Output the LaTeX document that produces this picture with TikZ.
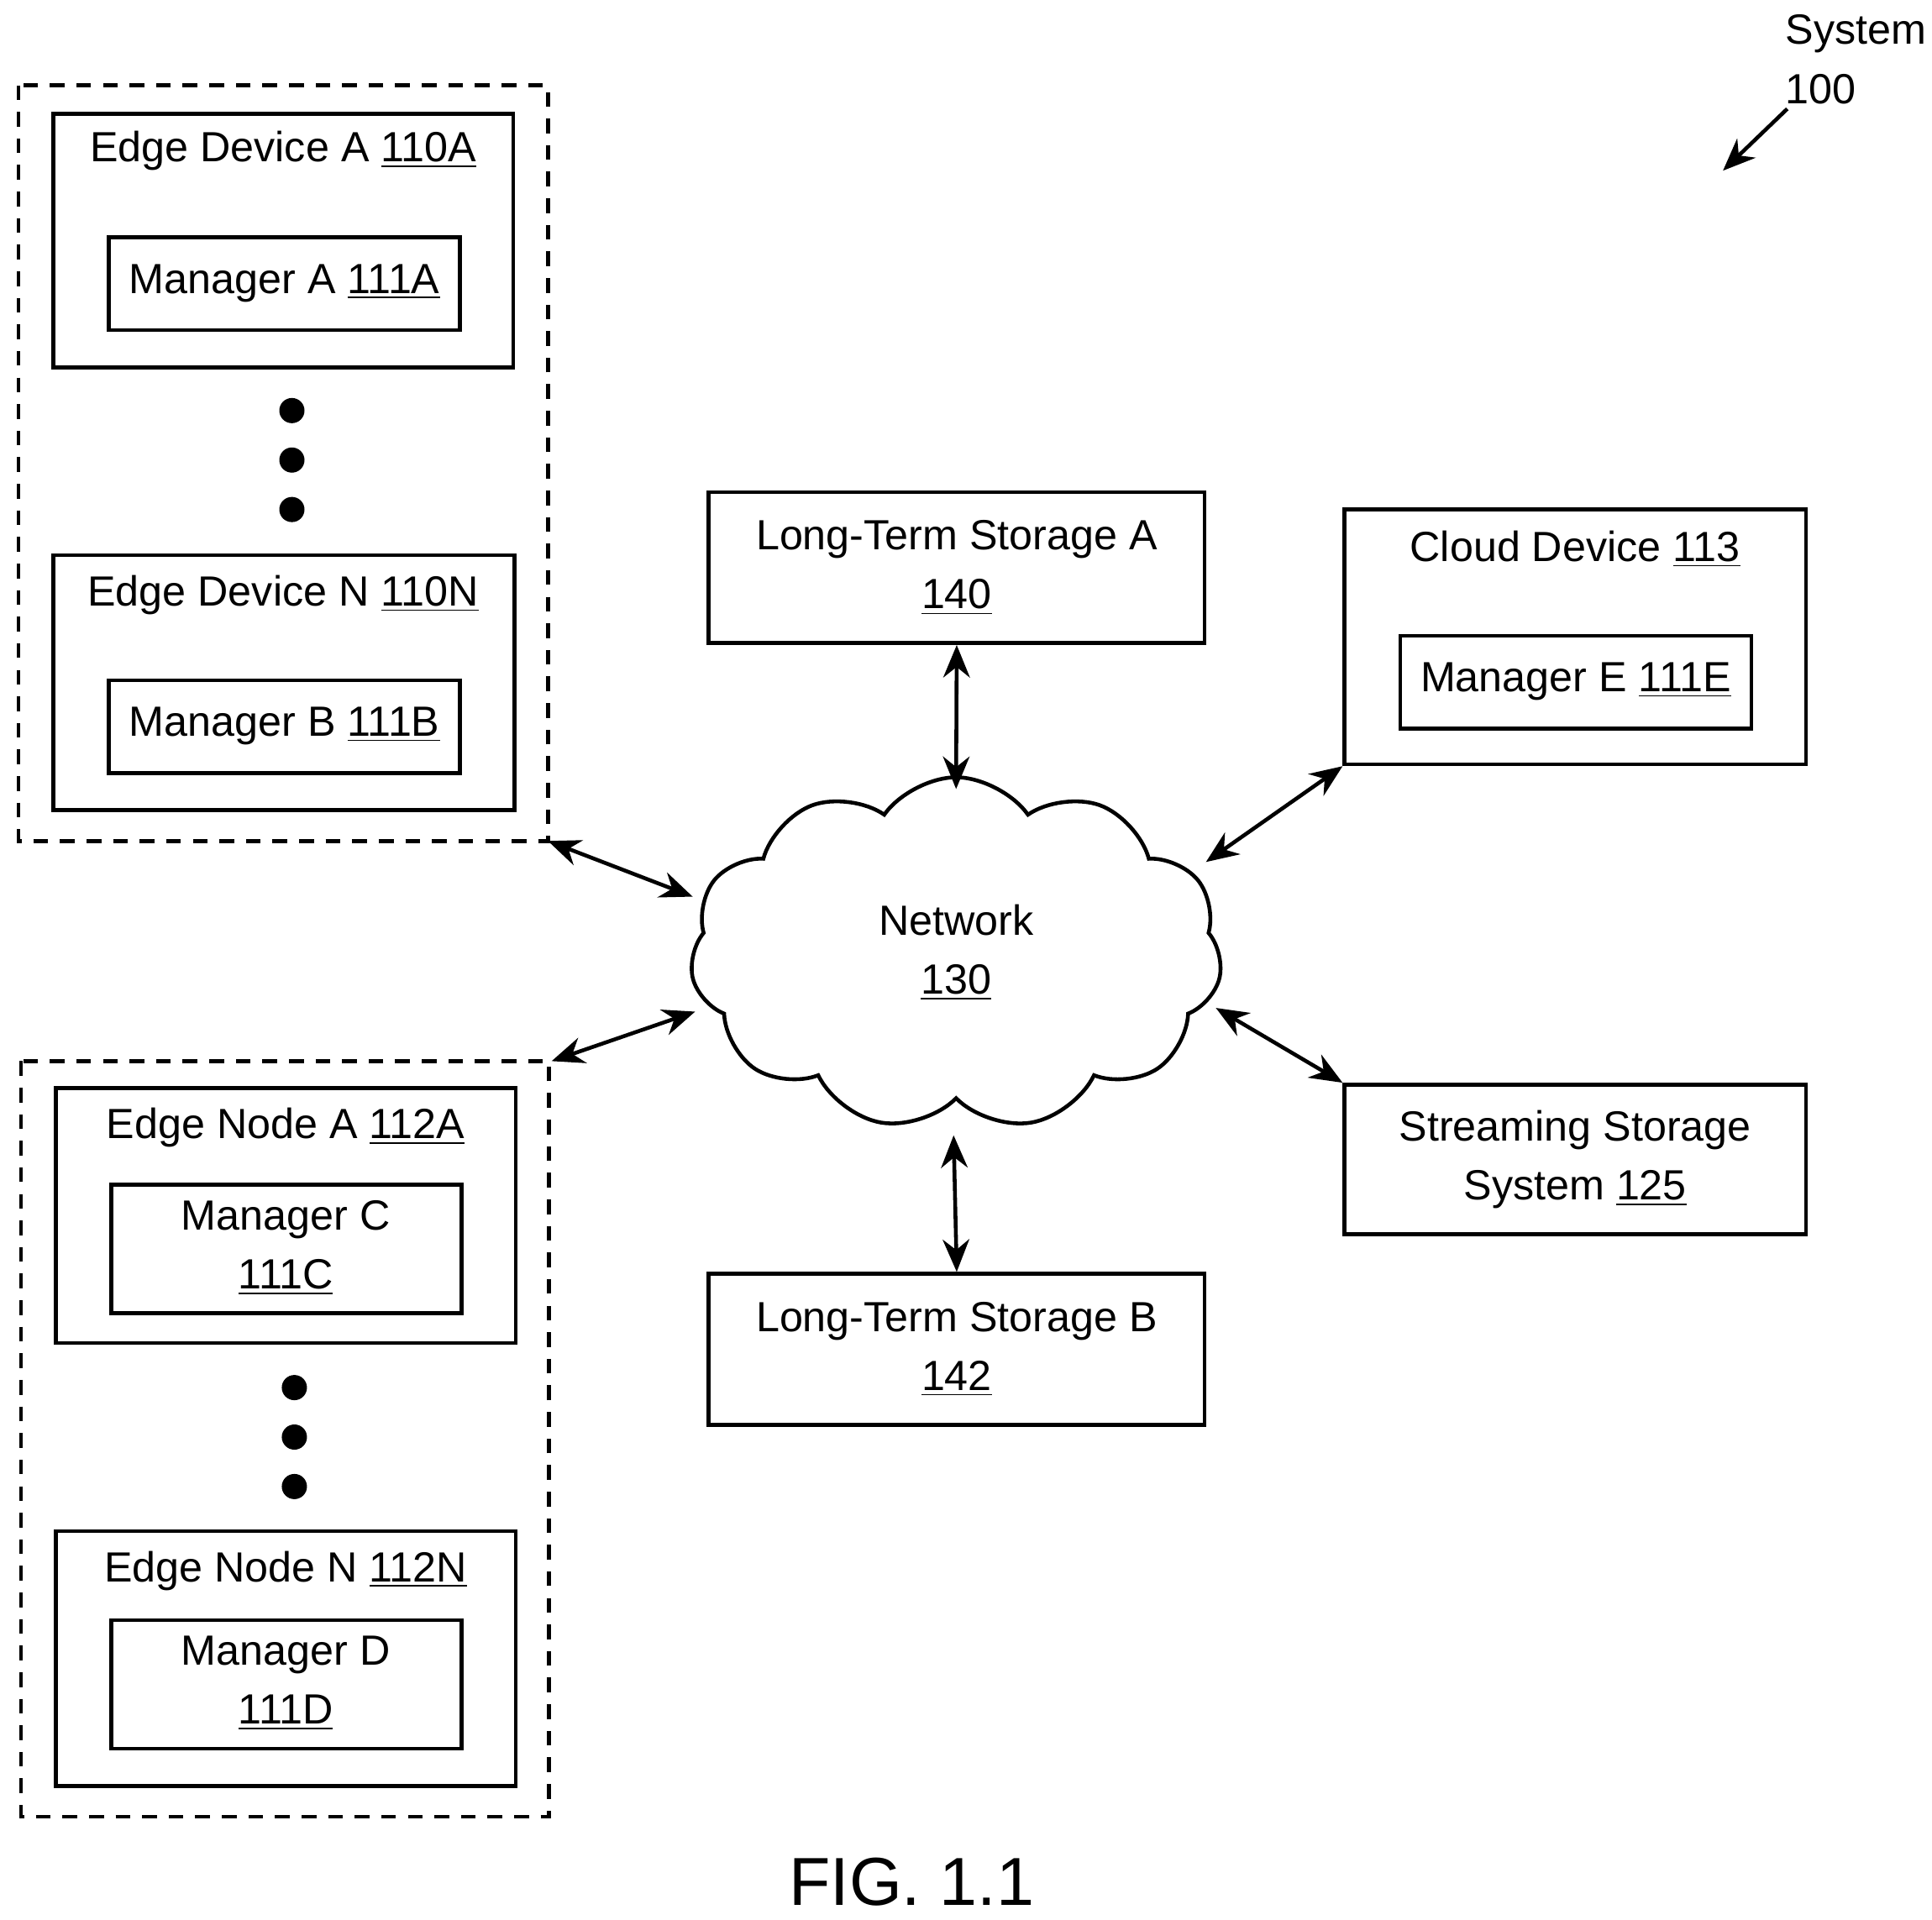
\documentclass[tikz,border=0pt]{standalone}
\usepackage{fontspec}
\setmainfont{Liberation Sans}
\usetikzlibrary{shapes.symbols,arrows.meta}
\begin{document}
\begin{tikzpicture}[x=0.014725cm,y=-0.014725cm,
  box/.style={draw,line width=1.3pt},
  grp/.style={draw,line width=1.3pt,dash pattern=on 5pt off 4pt},
  lbl/.style={font=\fontsize{14.3pt}{16pt}\selectfont,align=center,inner sep=0},
  dot/.style={fill,circle,minimum size=0.3cm,inner sep=0},
  arr/.style={line width=1.3pt,{Stealth[length=11pt,width=9pt]}-{Stealth[length=11pt,width=9pt]}}]
\useasboundingbox (0,0) rectangle (1562,1552);
\fill[white] (0,0) rectangle (1562,1552);
% groups
\draw[grp] (15,69) rectangle (443,680);
\coordinate (g1) at (443,680);
\draw[grp] (17,858) rectangle (444,1469);
\coordinate (g2) at (446,858);
% edge devices
\draw[box] (43,92) rectangle (415,297);
\node[lbl] (eda) at (229,122) {Edge Device A \underline{110A}};
\draw[box] (88,192) rectangle (372,267);
\node[lbl] (ma) at (230,229) {Manager A \underline{111A}};
\node[dot] (d1) at (236,332) {};
\node[dot] (d2) at (236,372) {};
\node[dot] (d3) at (236,412) {};
\draw[box] (43,449) rectangle (416,655);
\node[lbl] (edn) at (229,481) {Edge Device N \underline{110N}};
\draw[box] (88,550) rectangle (372,625);
\node[lbl] (mb) at (230,587) {Manager B \underline{111B}};
% edge nodes
\draw[box] (45,880) rectangle (417,1086);
\node[lbl] (ena) at (231,912) {Edge Node A \underline{112A}};
\draw[box] (90,958) rectangle (373,1062);
\node[lbl] (mc) at (231,1009) {Manager C\\[4pt]\underline{111C}};
\node[dot] (d4) at (238,1122) {};
\node[dot] (d5) at (238,1162) {};
\node[dot] (d6) at (238,1202) {};
\draw[box] (45,1238) rectangle (417,1444);
\node[lbl] (enn) at (231,1270) {Edge Node N \underline{112N}};
\draw[box] (90,1310) rectangle (373,1414);
\node[lbl] (md) at (231,1361) {Manager D\\[4pt]\underline{111D}};
% storage
\node[box,minimum width=401*0.014725cm,minimum height=122*0.014725cm] (lta) at (773.5,459) {};
\node[lbl] at (773.5,459) {Long-Term Storage A\\[4pt]\underline{140}};
\node[box,minimum width=401*0.014725cm,minimum height=122*0.014725cm] (ltb) at (773.5,1091) {};
\node[lbl] at (773.5,1091) {Long-Term Storage B\\[4pt]\underline{142}};
\node[box,minimum width=373*0.014725cm,minimum height=206*0.014725cm] (cd) at (1273.5,515) {};
\node[lbl] at (1273.5,444) {Cloud Device \underline{113}};
\draw[box] (1132,514) rectangle (1416,589);
\node[lbl] (me) at (1274,551) {Manager E \underline{111E}};
\node[box,minimum width=373*0.014725cm,minimum height=121*0.014725cm] (ss) at (1273.5,937.5) {};
\node[lbl] at (1273.5,937.5) {Streaming Storage\\[4pt]System \underline{125}};
% cloud
\node[cloud,draw,line width=1.3pt,cloud puffs=11,cloud puff arc=110,aspect=1.5,
  minimum width=430*0.014725cm,minimum height=285*0.014725cm,inner sep=0] (net) at (773,771) {};
\node[lbl] at (773,770) {Network\\[4pt]\underline{130}};
\coordinate (ct) at (773,638);
\coordinate (cb) at (771,918);
\coordinate (cl1) at (560,725);
\coordinate (cl2) at (562,818);
\coordinate (cr1) at (975,697);
\coordinate (cr2) at (983,815);
\draw[arr] (lta.south) -- (ct);
\draw[arr] (cb) -- (ltb.north);
\draw[arr] (g1) -- (cl1);
\draw[arr] (g2) -- (cl2);
\draw[arr] (cd.south west) -- (cr1);
\draw[arr] (ss.north west) -- (cr2);
% system label
\node[lbl,align=left,anchor=west] (sys) at (1443,48) {System\\[4pt]100};
\coordinate (sa) at (1393,138);
\draw[line width=1.3pt,-{Stealth[length=11pt,width=9pt]}] (1445,88) -- (sa);
\node[font=\fontsize{23pt}{28pt}\selectfont] (fig) at (737,1522) {FIG. 1.1};
\end{tikzpicture}
\end{document}
